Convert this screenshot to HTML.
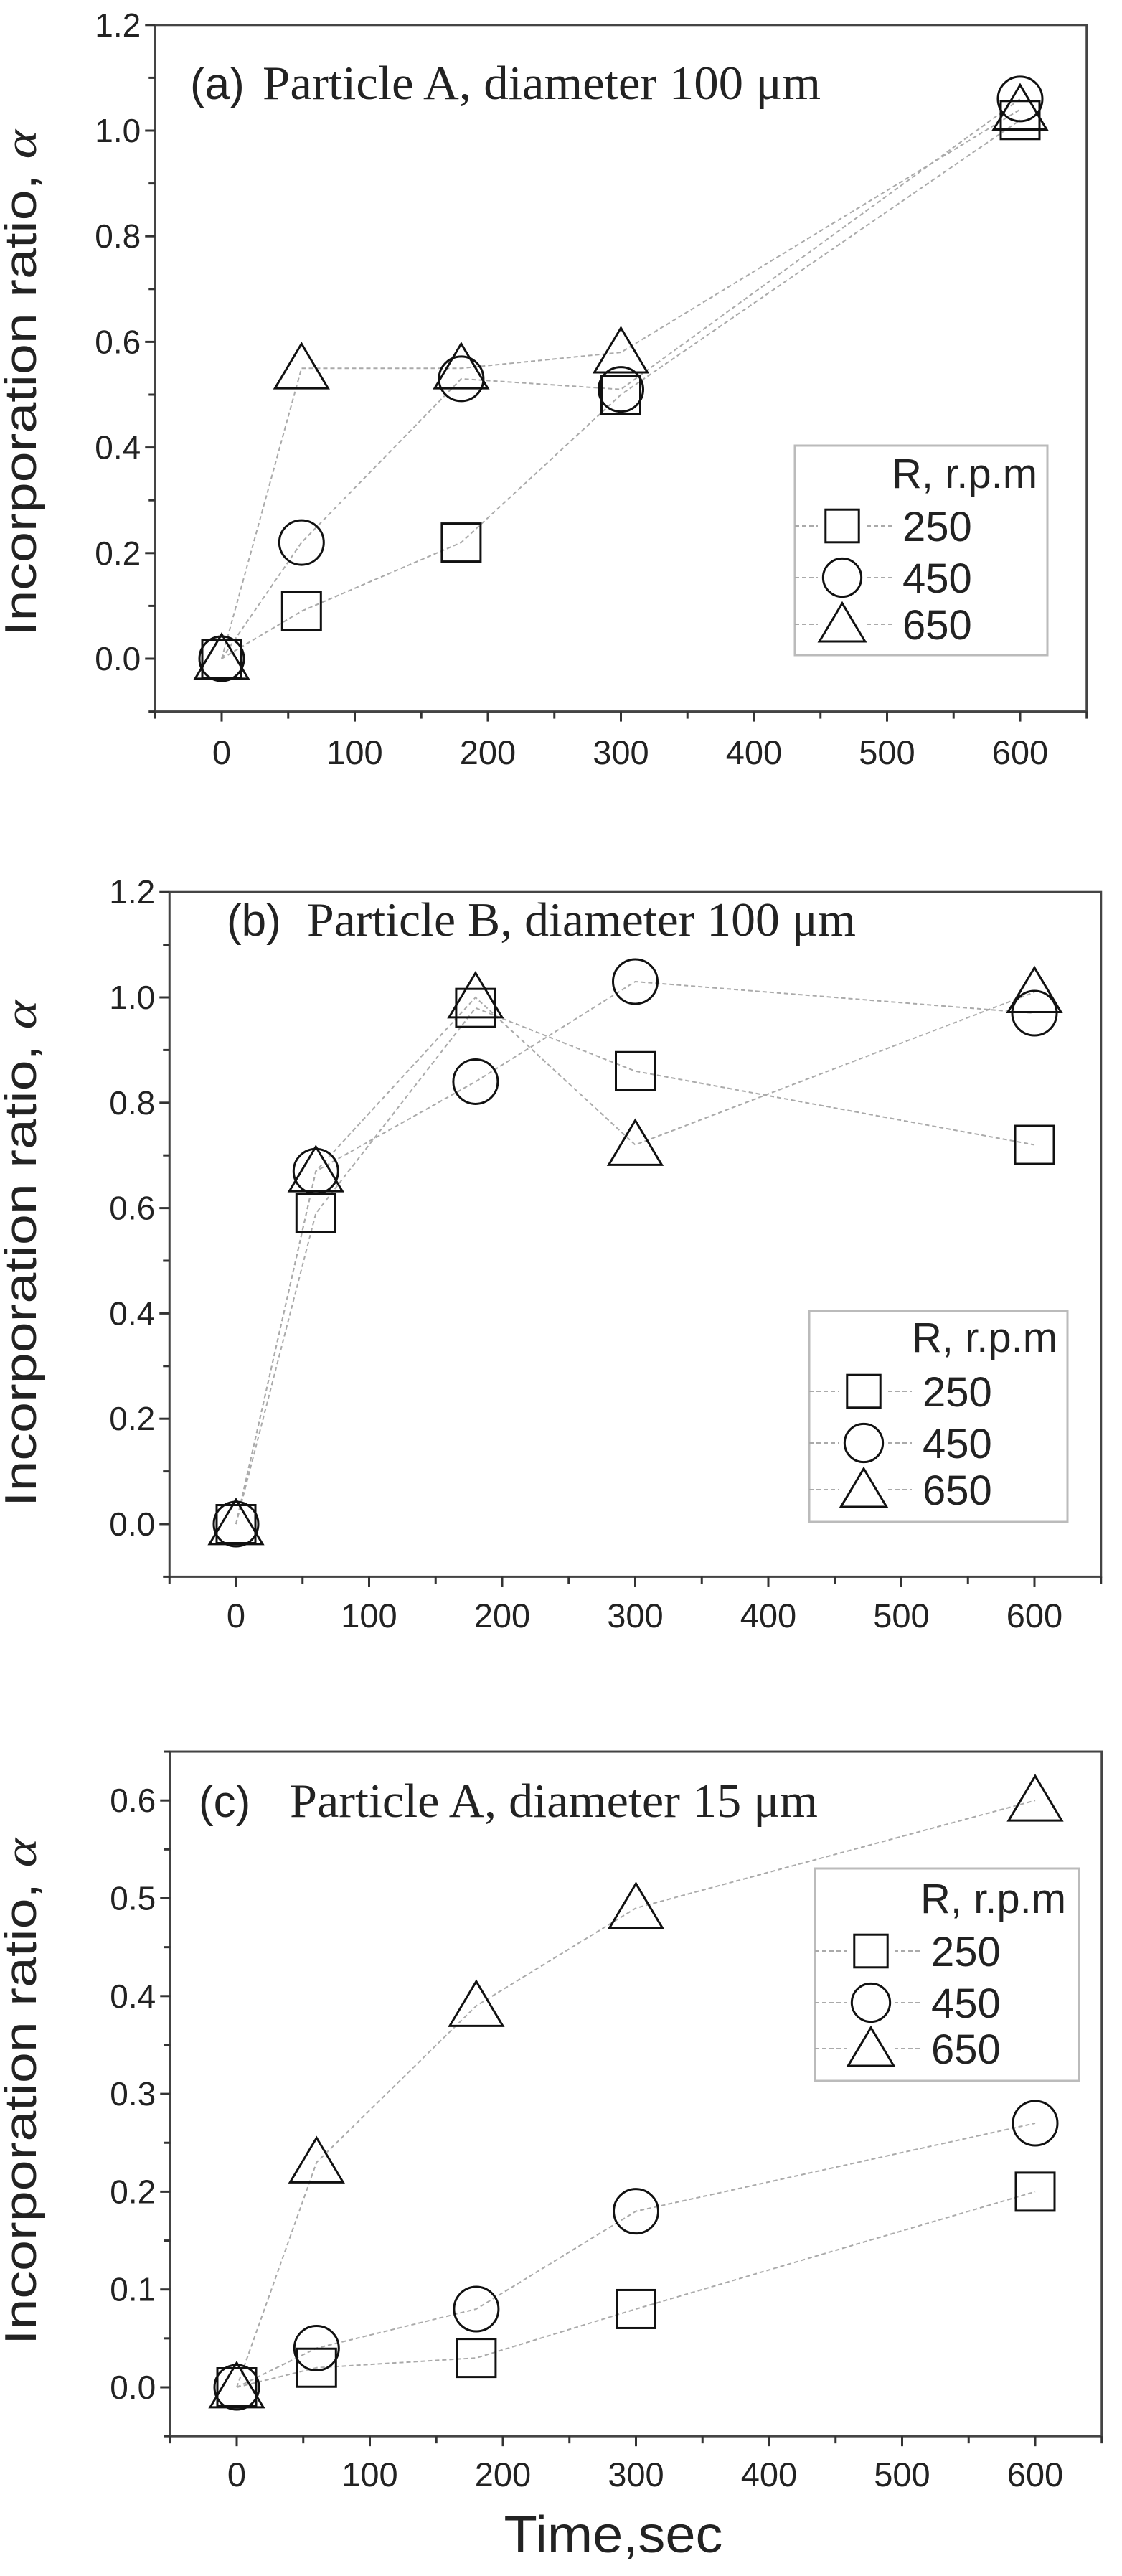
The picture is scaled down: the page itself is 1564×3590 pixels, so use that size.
<!DOCTYPE html>
<html><head><meta charset="utf-8"><style>
html,body{margin:0;padding:0;background:#fff;}
svg{display:block;}
</style></head><body>
<svg id="s" xmlns="http://www.w3.org/2000/svg" width="1564" height="3590" viewBox="0 0 1564 3590"></svg>
<script>
var S='';
function ln(x1,y1,x2,y2,c,w,d){S+='<line x1="'+x1+'" y1="'+y1+'" x2="'+x2+'" y2="'+y2+'" stroke="'+c+'" stroke-width="'+w+'"'+(d?' stroke-dasharray="'+d+'"':'')+'/>';}
function tx(x,y,t,fs,fam,anc,extra){S+='<text x="'+x+'" y="'+y+'" font-size="'+fs+'" font-family="'+fam+'" text-anchor="'+(anc||'start')+'" fill="#222" '+(extra||'')+'>'+t+'</text>';}
var SANS="'Liberation Sans', Arial, sans-serif", SERIF="'Liberation Serif', 'Times New Roman', serif";
function mk(type,cx,cy,sc){sc=sc||1;
 if(type==0){var w=54*sc,h=53*sc;S+='<rect x="'+(cx-w/2)+'" y="'+(cy-h/2)+'" width="'+w+'" height="'+h+'" fill="none" stroke="#111" stroke-width="3"/>';}
 else if(type==1){S+='<ellipse cx="'+cx+'" cy="'+cy+'" rx="'+31*sc+'" ry="'+31*sc+'" fill="none" stroke="#111" stroke-width="3"/>';}
 else {var w=74*sc,h=62*sc;S+='<polygon points="'+(cx-w/2)+','+(cy+h*0.45)+' '+(cx+w/2)+','+(cy+h*0.45)+' '+cx+','+(cy-h*0.55)+'" fill="none" stroke="#111" stroke-width="3"/>';}
}
var X=[0,60,180,300,600];
function panel(p){
 var fx=function(v){return p.x0+v*p.px/100;}, fy=function(v){return p.y0-v*p.py;};
 var L=fx(-50),R=fx(650),T=fy(p.ymax),B=fy(p.ymin);
 // frame
 S+='<rect x="'+L+'" y="'+T+'" width="'+(R-L)+'" height="'+(B-T)+'" fill="none" stroke="#444" stroke-width="3"/>';
 // x ticks
 for(var v=-50;v<=650;v+=50){var big=(v%100==0);ln(fx(v),B,fx(v),B+(big?14:10),'#333',3);
   if(big&&v>=0) tx(fx(v),p.xl,String(v),47,SANS,'middle');}
 // y ticks
 var n=Math.round((p.ymax-p.ymin)/p.minor);
 for(var i=0;i<=n;i++){var v=p.ymin+i*p.minor;var yy=fy(v);var lab=Math.abs(Math.round(v/p.major)*p.major-v)<1e-6;
   ln(L-(lab?14:9),yy,L,yy,'#333',3);
   if(lab&&v>=-1e-9) tx(L-20,yy+16,v.toFixed(1),46,SANS,'end');}
 // series lines
 for(var s=0;s<3;s++){var d=p.d[s];var pts=[];for(var k=0;k<5;k++)pts.push(fx(X[k])+','+fy(d[k]));
   S+='<polyline points="'+pts.join(' ')+'" fill="none" stroke="#aaa" stroke-width="2" stroke-dasharray="6,4"/>';}
 for(var s=0;s<3;s++){for(var k=0;k<5;k++)mk(s,fx(X[k]),fy(p.d[s][k]));}
 // title
 tx(p.tl[0],p.tl[1],p.lab,62,SANS);
 tx(p.tt[0],p.tl[1],p.title,67,SERIF,'start','textLength="'+p.tt[1]+'" lengthAdjust="spacingAndGlyphs"');
 // y label
 S+='<text transform="translate(50,'+p.yc+') rotate(-90)" text-anchor="middle" font-size="62" font-family="'+SANS+'" fill="#222" textLength="706" lengthAdjust="spacingAndGlyphs">Incorporation ratio, <tspan font-family="'+SERIF+'" font-style="italic">α</tspan></text>';
 // legend
 var g=p.lg; S+='<rect x="'+g.x1+'" y="'+g.y1+'" width="'+(g.x2-g.x1)+'" height="'+(g.y2-g.y1)+'" fill="#fff" stroke="#bbb" stroke-width="3"/>';
 tx(g.tx-15,g.r,'R, r.p.m',58,SANS);
 var names=['250','450','650'];
 for(var s=0;s<3;s++){var cy=g.rows[s];ln(g.x1,cy,g.tx-15,cy,'#aaa',2,'6,4');
   S+='<rect x="'+(g.sx-34)+'" y="'+(cy-32)+'" width="68" height="64" fill="#fff"/>';
   mk(s,g.sx,cy,0.86);tx(g.tx,cy+21,names[s],58,SANS);}
}
panel({x0:309,px:185.5,y0:918,py:736,ymin:-0.1,ymax:1.2,minor:0.1,major:0.2,xl:1065,
 d:[[0,0.09,0.22,0.5,1.02],[0,0.22,0.53,0.51,1.06],[0,0.55,0.55,0.58,1.04]],
 lab:'(a)',title:'Particle A, diameter 100 μm',tl:[265,138],tt:[366,778],yc:534,
 lg:{x1:1108,x2:1460,y1:621,y2:913,r:680,rows:[733,805,870],sx:1174,tx:1258}});
panel({x0:329,px:185.5,y0:2124,py:734,ymin:-0.1,ymax:1.2,minor:0.1,major:0.2,xl:2268,
 d:[[0,0.59,0.98,0.86,0.72],[0,0.67,0.84,1.03,0.97],[0,0.67,1.0,0.72,1.01]],
 lab:'(b)',title:'Particle B, diameter 100 μm',tl:[316,1304],tt:[428,765],yc:1747,
 lg:{x1:1128,x2:1488,y1:1827,y2:2121,r:1884,rows:[1939,2011,2076],sx:1204,tx:1286}});
panel({x0:330,px:185.5,y0:3327,py:1363,ymin:-0.05,ymax:0.65,minor:0.05,major:0.1,xl:3465,
 d:[[0,0.02,0.03,0.08,0.2],[0,0.04,0.08,0.18,0.27],[0,0.23,0.39,0.49,0.6]],
 lab:'(c)',title:'Particle A, diameter 15 μm',tl:[277,2532],tt:[404,736],yc:2915,
 lg:{x1:1136,x2:1504,y1:2604,y2:2900,r:2666,rows:[2719,2791,2855],sx:1214,tx:1298}});
tx(855,3557,'Time,sec',72,SANS,'middle','textLength="305" lengthAdjust="spacingAndGlyphs"');
document.getElementById('s').innerHTML=S;
</script>
</body></html>
